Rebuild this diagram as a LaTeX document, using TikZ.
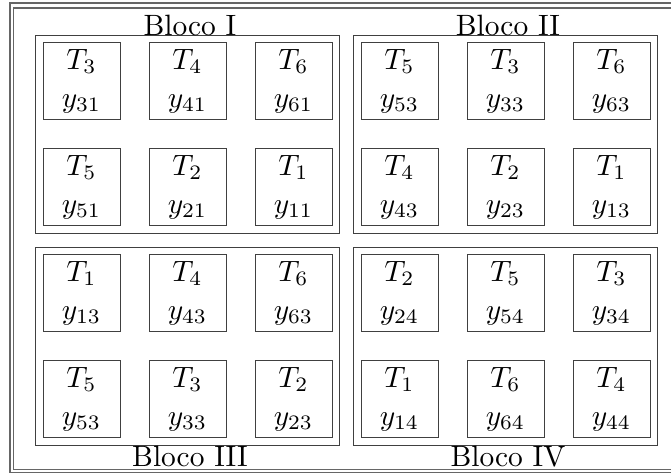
\documentclass[tikz,border=0pt]{standalone}
\newcommand\cellbox[5]{%
  \node[cell] (#1) at (#2,#3) {};
  \node[lbl] (#1t) at ({#2+38.5},{#3+27}) {$T_{#4}$};
  \node[lbl] (#1y) at ({#2+38.5},{#3+65}) {$y_{#5}$};}
\begin{document}
\begin{tikzpicture}[x=0.34pt,y=-0.34pt,
  frame/.style={draw=black!75,line width=0.45pt,minimum width=103.36pt,minimum height=67.32pt,anchor=north west,inner sep=0pt},
  cell/.style={draw=black!75,line width=0.45pt,minimum width=26.18pt,minimum height=26.18pt,anchor=north west,inner sep=0pt},
  lbl/.style={anchor=base,inner sep=0pt},
  border/.style={draw=black!60,line width=0.5pt}]
\useasboundingbox (0,0) rectangle (671,473);
\clip (0,0) rectangle (671,473);
\draw[border] (10,3) rectangle (700,472.5);
\draw[border] (13.5,8) rectangle (700,469.5);
% blocks
\node[frame] (blkI) at (35,35) {};
\node[frame] (blkII) at (353,35) {};
\node[frame] (blkIII) at (35,247) {};
\node[frame] (blkIV) at (353,247) {};
\node[lbl] (lblI) at (190,35) {Bloco I};
\node[lbl] (lblII) at (508,35) {Bloco II};
\node[lbl] (lblIII) at (190,466.5) {Bloco III};
\node[lbl] (lblIV) at (508,466.5) {Bloco IV};
% Bloco I
\cellbox{a1}{43}{42}{3}{31}
\cellbox{a2}{149}{42}{4}{41}
\cellbox{a3}{255}{42}{6}{61}
\cellbox{a4}{43}{148}{5}{51}
\cellbox{a5}{149}{148}{2}{21}
\cellbox{a6}{255}{148}{1}{11}
% Bloco II
\cellbox{b1}{361}{42}{5}{53}
\cellbox{b2}{467}{42}{3}{33}
\cellbox{b3}{573}{42}{6}{63}
\cellbox{b4}{361}{148}{4}{43}
\cellbox{b5}{467}{148}{2}{23}
\cellbox{b6}{573}{148}{1}{13}
% Bloco III
\cellbox{c1}{43}{254}{1}{13}
\cellbox{c2}{149}{254}{4}{43}
\cellbox{c3}{255}{254}{6}{63}
\cellbox{c4}{43}{360}{5}{53}
\cellbox{c5}{149}{360}{3}{33}
\cellbox{c6}{255}{360}{2}{23}
% Bloco IV
\cellbox{d1}{361}{254}{2}{24}
\cellbox{d2}{467}{254}{5}{54}
\cellbox{d3}{573}{254}{3}{34}
\cellbox{d4}{361}{360}{1}{14}
\cellbox{d5}{467}{360}{6}{64}
\cellbox{d6}{573}{360}{4}{44}
\end{tikzpicture}
\end{document}
